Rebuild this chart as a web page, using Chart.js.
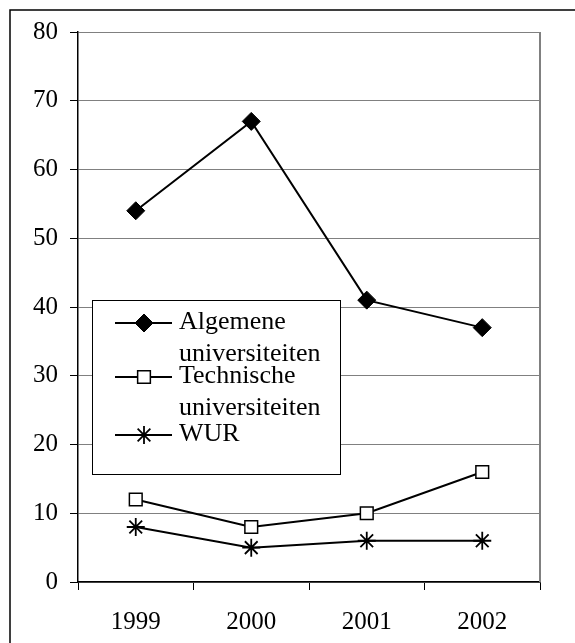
<!DOCTYPE html>
<html>
<head>
<meta charset="utf-8">
<script src="https://cdn.jsdelivr.net/npm/chart.js@4"></script>
<style>
    html, body { margin: 0; padding: 0; background: #fff; }
</style>
</head>
<body>
<canvas id="myLineChart" width="575" height="643"></canvas>
<script>
// data
var years = ['1999', '2000', '2001', '2002']
var seriesNames = [['Algemene', 'universiteiten'], ['Technische', 'universiteiten'], ['WUR']]
var algemene = [54, 67, 41, 37]
var technische = [12, 8, 10, 16]
var wur = [8, 5, 6, 6]
var yMin = 0
var yMax = 80
var yStep = 10

var serif = "'Liberation Serif', 'Times New Roman', serif"

// legend box drawn inside the plot, plus the frame lines
var legendBox = {
    id: 'legendBox',
    afterDatasetsDraw: function(chart) {
        var ctx = chart.ctx
        var area = chart.chartArea
        var left = area.left + 14
        var top = area.top + 268
        var w = 248
        var h = 174
        ctx.save()
        ctx.fillStyle = '#fff'
        ctx.fillRect(left, top, w, h)
        ctx.strokeStyle = '#000'
        ctx.lineWidth = 1
        ctx.strokeRect(left + 0.5, top + 0.5, w, h)

        var rowY = [23, 77, 135]
        chart.data.datasets.forEach(function(ds, i) {
            var y = top + rowY[i]
            ctx.strokeStyle = '#000'
            ctx.lineWidth = ds.borderWidth
            ctx.beginPath()
            ctx.moveTo(left + 23, y)
            ctx.lineTo(left + 80, y)
            ctx.stroke()

            ctx.fillStyle = ds.pointBackgroundColor
            ctx.strokeStyle = ds.pointBorderColor
            ctx.lineWidth = ds.pointBorderWidth
            Chart.helpers.drawPoint(ctx, {
                pointStyle: ds.pointStyle,
                radius: ds.pointRadius,
                borderWidth: ds.pointBorderWidth,
                rotation: 0
            }, left + 52, y)

            ctx.fillStyle = '#000'
            ctx.font = '26px ' + serif
            ctx.textAlign = 'left'
            ctx.textBaseline = 'alphabetic'
            seriesNames[i].forEach(function(line, j) {
                ctx.fillText(line, left + 87, y + 6 + j * 32)
            })
        })
        ctx.restore()
    },
    afterDraw: function(chart) {
        var ctx = chart.ctx
        var area = chart.chartArea
        ctx.save()
        // right edge of the plot
        ctx.strokeStyle = '#808080'
        ctx.lineWidth = 2
        ctx.beginPath()
        ctx.moveTo(area.right, area.top)
        ctx.lineTo(area.right, area.bottom)
        ctx.stroke()
        // outer frame (only top and left show)
        ctx.strokeStyle = '#000'
        ctx.lineWidth = 1.5
        ctx.beginPath()
        ctx.moveTo(10, chart.height)
        ctx.lineTo(10, 10)
        ctx.lineTo(chart.width, 10)
        ctx.stroke()
        ctx.restore()
    }
}

var ctx = document.getElementById('myLineChart').getContext('2d')
var myLineChart = new Chart(ctx, {
    type: 'line',
    data: {
        labels: years,
        datasets: [{
            label: seriesNames[0].join(' '),
            data: algemene,
            borderColor: '#000',
            borderWidth: 2,
            pointStyle: 'rectRot',
            pointRadius: 9,
            pointBackgroundColor: '#000',
            pointBorderColor: '#000',
            pointBorderWidth: 1
        }, {
            label: seriesNames[1].join(' '),
            data: technische,
            borderColor: '#000',
            borderWidth: 2,
            pointStyle: 'rect',
            pointRadius: 9,
            pointBackgroundColor: '#fff',
            pointBorderColor: '#000',
            pointBorderWidth: 1.5
        }, {
            label: seriesNames[2].join(' '),
            data: wur,
            borderColor: '#000',
            borderWidth: 2,
            pointStyle: 'star',
            pointRadius: 9,
            pointBackgroundColor: '#000',
            pointBorderColor: '#000',
            pointBorderWidth: 1.8
        }]
    },
    options: {
        responsive: false,
        animation: false,
        layout: { padding: { top: 32, right: 35, left: 0, bottom: 0 } },
        plugins: {
            legend: { display: false },
            tooltip: { enabled: false }
        },
        scales: {
            x: {
                offset: true,
                grid: {
                    offset: true,
                    drawOnChartArea: false,
                    tickLength: 8,
                    tickColor: '#000',
                    tickWidth: 1
                },
                border: { color: '#000', width: 1.5 },
                ticks: {
                    color: '#000',
                    font: { family: serif, size: 25 },
                    padding: 17,
                    maxRotation: 0
                },
                afterFit: function(scale) { scale.height = 61 }
            },
            y: {
                min: yMin,
                max: yMax,
                grid: {
                    color: '#808080',
                    lineWidth: 1,
                    tickLength: 8,
                    tickColor: '#000'
                },
                border: { color: '#000', width: 1.5 },
                ticks: {
                    stepSize: yStep,
                    color: '#000',
                    font: { family: serif, size: 25 },
                    padding: 12
                },
                afterFit: function(scale) { scale.width = 78 }
            }
        }
    },
    plugins: [legendBox]
})
</script>
</body>
</html>
